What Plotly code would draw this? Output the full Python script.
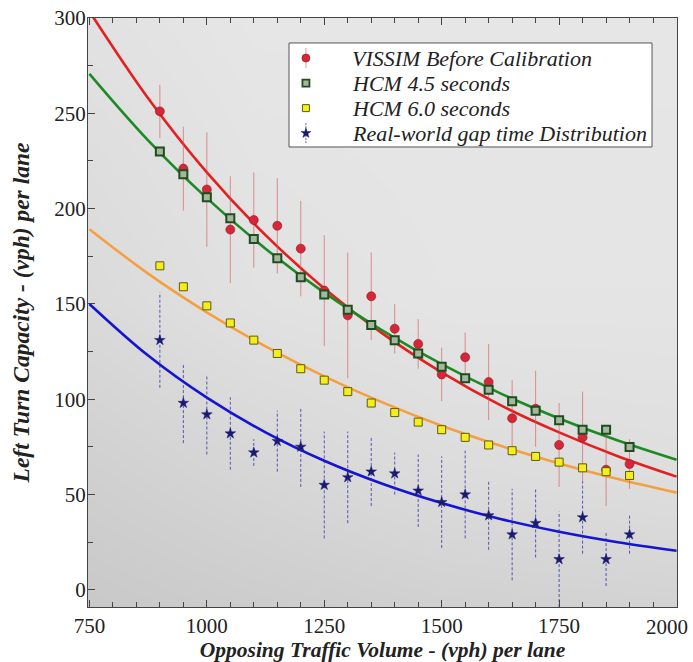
import plotly.graph_objects as go

# ---------------- data ----------------
volumes = [900, 950, 1000, 1050, 1100, 1150, 1200, 1250, 1300, 1350, 1400,
           1450, 1500, 1550, 1600, 1650, 1700, 1750, 1800, 1850, 1900]

vissim = [251, 221, 210, 189, 194, 191, 179, 157, 144, 154, 137,
          129, 113, 122, 109, 90, 95, 76, 80, 63, 66]
vissim_err = [14, 22, 30, 28, 25, 25, 25, 29, 33, 23, 13,
              13, 14, 13, 20, 20, 20, 22, 24, 19, 13]

hcm45 = [230, 218, 206, 195, 184, 174, 164, 155, 147, 139, 131,
         124, 117, 111, 105, 99, 94, 89, 84, 84, 75]

hcm60 = [170, 159, 149, 140, 131, 124, 116, 110, 104, 98, 93,
         88, 84, 80, 76, 73, 70, 67, 64, 62, 60]

realworld = [131, 98, 92, 82, 72, 78, 75, 55, 59, 62, 61,
             52, 46, 50, 39, 29, 35, 16, 38, 16, 29]
realworld_err = [25, 21, 21, 19, 7, 16, 21, 28, 24, 18, 11,
                 19, 24, 23, 18, 24, 18, 25, 19, 14, 10]

# fitted curves, values
curve_x = [750, 875, 1000, 1125, 1250, 1375, 1500, 1625, 1750, 1875, 2000]
curve_vissim = [303.5, 257.9, 219.0, 186.1, 158.1, 134.3, 114.1, 96.9, 82.6, 70.1, 59.4]
curve_hcm45 = [270.7, 235.8, 205.5, 179.0, 155.9, 135.9, 118.4, 103.1, 89.9, 78.3, 68.2]
curve_hcm60 = [189.2, 165.9, 145.6, 127.7, 112.0, 98.2, 86.1, 75.6, 66.3, 58.1, 51.0]
curve_real = [150.0, 122.9, 100.8, 82.6, 67.7, 55.5, 45.5, 37.2, 30.5, 25.0, 20.5]

names = ["VISSIM Before Calibration", "HCM 4.5 seconds",
         "HCM 6.0 seconds", "Real-world gap time Distribution"]

x_ticks = [750, 1000, 1250, 1500, 1750, 2000]
y_ticks = [0, 50, 100, 150, 200, 250, 300]

x_title = "Opposing Traffic Volume - (vph) per lane"
y_title = "Left Turn Capacity - (vph) per lane"

X_RANGE = [747, 2001]
Y_RANGE = [-9, 300]

SERIF = "Liberation Serif"

# styles
RED, RED_EDGE = "#d7263a", "#8a1a1a"
GREEN_FILL, GREEN_EDGE = "#a3b89e", "#1f4d1f"
YEL_FILL, YEL_EDGE = "#f4ee1c", "#5e5a10"
NAVY = "#1a1a70"
RED_ERR = "rgba(215,80,80,0.6)"
BLUE_ERR = "rgba(40,40,170,0.75)"

fig = go.Figure()

# background gradient (darker towards the bottom / lower-left)
bg_x = [X_RANGE[0], 1100, 1500, X_RANGE[1]]
bg_y = [Y_RANGE[0], 60, 150, Y_RANGE[1]]
bg_z = [[0.08, 0.20, 0.33, 0.40],
        [0.30, 0.50, 0.68, 0.75],
        [0.62, 0.85, 0.95, 0.95],
        [0.86, 1.00, 1.00, 1.00]]
fig.add_trace(go.Heatmap(
    x=bg_x, y=bg_y, z=bg_z, zsmooth="best", showscale=False,
    colorscale=[[0, "#c6c6c6"], [1, "#e6e6e6"]], zmin=0, zmax=1,
    hoverinfo="skip"))

# curves
for ys, col in [(curve_vissim, "#e41f1f"), (curve_hcm45, "#1d8a24"),
                (curve_hcm60, "#f5a040"), (curve_real, "#1414d2")]:
    fig.add_trace(go.Scatter(x=curve_x, y=ys, mode="lines",
                             line=dict(color=col, width=2.6, shape="spline"),
                             showlegend=False, hoverinfo="skip"))

# dashed error bars for real-world data
seg_x, seg_y = [], []
for xv, yv, ev in zip(volumes, realworld, realworld_err):
    seg_x += [xv, xv, None]
    seg_y += [yv - ev, yv + ev, None]
fig.add_trace(go.Scatter(x=seg_x, y=seg_y, mode="lines",
                         line=dict(color=BLUE_ERR, width=1, dash="3px,2px"),
                         showlegend=False, hoverinfo="skip"))

# data markers
red_marker = dict(symbol="circle", size=9, color=RED, line=dict(color=RED_EDGE, width=0.6))
green_marker = dict(symbol="square", size=8, color=GREEN_FILL, line=dict(color=GREEN_EDGE, width=2))
yel_marker = dict(symbol="square", size=8, color=YEL_FILL, line=dict(color=YEL_EDGE, width=1))
star_marker = dict(symbol="star", size=8, color=NAVY, line=dict(color=NAVY, width=0.5))

fig.add_trace(go.Scatter(
    x=volumes, y=vissim, mode="markers", name=names[0], marker=red_marker,
    error_y=dict(type="data", array=vissim_err, visible=True,
                 color=RED_ERR, thickness=1, width=0), showlegend=False))
fig.add_trace(go.Scatter(x=volumes, y=hcm45, mode="markers", name=names[1],
                         marker=green_marker, showlegend=False))
fig.add_trace(go.Scatter(x=volumes, y=hcm60, mode="markers", name=names[2],
                         marker=yel_marker, showlegend=False))
fig.add_trace(go.Scatter(x=volumes, y=realworld, mode="markers", name=names[3],
                         marker=star_marker, showlegend=False))

# ---------------- custom legend (layout, plot-area fraction positions) ----------------
LEG_X0, LEG_X1, LEG_Y0, LEG_Y1 = 0.3413, 0.9576, 0.781, 0.9576
LEG_ROWS = [0.932, 0.8895, 0.847, 0.8045]
LEG_SYM_X = 0.370
LEG_TXT_X = 0.4448
LEG_HINT = 0.017

fig.add_trace(go.Scatter(
    x=[LEG_X0, LEG_X1, LEG_X1, LEG_X0, LEG_X0], y=[LEG_Y0, LEG_Y0, LEG_Y1, LEG_Y1, LEG_Y0],
    mode="lines", fill="toself", fillcolor="white", line=dict(color="#555555", width=1),
    xaxis="x2", yaxis="y2", showlegend=False, hoverinfo="skip"))
# error-line hints in the legend symbols
fig.add_trace(go.Scatter(x=[LEG_SYM_X, LEG_SYM_X], y=[LEG_ROWS[0] - LEG_HINT, LEG_ROWS[0] + LEG_HINT],
                         mode="lines", line=dict(color=RED_ERR, width=1),
                         xaxis="x2", yaxis="y2", showlegend=False, hoverinfo="skip"))
fig.add_trace(go.Scatter(x=[LEG_SYM_X, LEG_SYM_X], y=[LEG_ROWS[3] - LEG_HINT, LEG_ROWS[3] + LEG_HINT],
                         mode="lines", line=dict(color=BLUE_ERR, width=1, dash="2px,1px"),
                         xaxis="x2", yaxis="y2", showlegend=False, hoverinfo="skip"))

legend_markers = [dict(red_marker, size=8),
                  dict(green_marker, size=7, line=dict(color=GREEN_EDGE, width=1.8)),
                  dict(yel_marker, size=7), dict(star_marker, size=7.5)]
for row, mk, nm in zip(LEG_ROWS, legend_markers, names):
    fig.add_trace(go.Scatter(x=[LEG_SYM_X], y=[row], mode="markers", marker=mk,
                             xaxis="x2", yaxis="y2", showlegend=False, hoverinfo="skip"))
    fig.add_annotation(x=LEG_TXT_X, y=row, xref="paper", yref="paper", text=nm,
                       xanchor="left", yanchor="middle", showarrow=False,
                       font=dict(family=SERIF, size=22, style="italic", color="#222222"))

# 2000 label, nudged inside like the reference
fig.add_annotation(x=2000, y=0, xref="x", yref="paper", text="2000", showarrow=False,
                   xanchor="center", yanchor="top", xshift=-10, yshift=-6,
                   font=dict(family=SERIF, size=21, color="#222"))

axis_common = dict(ticks="inside", ticklen=7, tickcolor="#444", showgrid=False,
                   zeroline=False, showline=True, linecolor="#444", linewidth=1.2,
                   automargin=False,
                   tickfont=dict(family=SERIF, size=21, color="#222"))
title_font = dict(family=SERIF, style="italic", weight="bold", color="#222")

fig.update_layout(
    width=693, height=662,
    margin=dict(l=88, r=16, t=18, b=55),
    paper_bgcolor="white", plot_bgcolor="#dcdcdc",
    font=dict(family=SERIF, color="#222222"),
    showlegend=False,
    xaxis=dict(
        range=X_RANGE, tickmode="array", tickvals=x_ticks,
        ticktext=[str(v) if v != 2000 else "" for v in x_ticks],
        mirror="ticks",
        minor=dict(dtick=50, tick0=750, ticks="inside", ticklen=5, tickcolor="#444", showgrid=False),
        title=dict(text=x_title, standoff=4, font=dict(title_font, size=21.5)), **axis_common),
    yaxis=dict(
        range=Y_RANGE, tickmode="array", tickvals=y_ticks, mirror=True,
        ticklabelstandoff=-3,
        minor=dict(dtick=25, tick0=0, ticks="inside", ticklen=5, tickcolor="#444", showgrid=False),
        title=dict(text=y_title, standoff=17, font=dict(title_font, size=23.5)), **axis_common),
    xaxis2=dict(range=[0, 1], overlaying="x", visible=False, fixedrange=True),
    yaxis2=dict(range=[0, 1], overlaying="y", visible=False, fixedrange=True),
)

fig.write_html("out.html")
